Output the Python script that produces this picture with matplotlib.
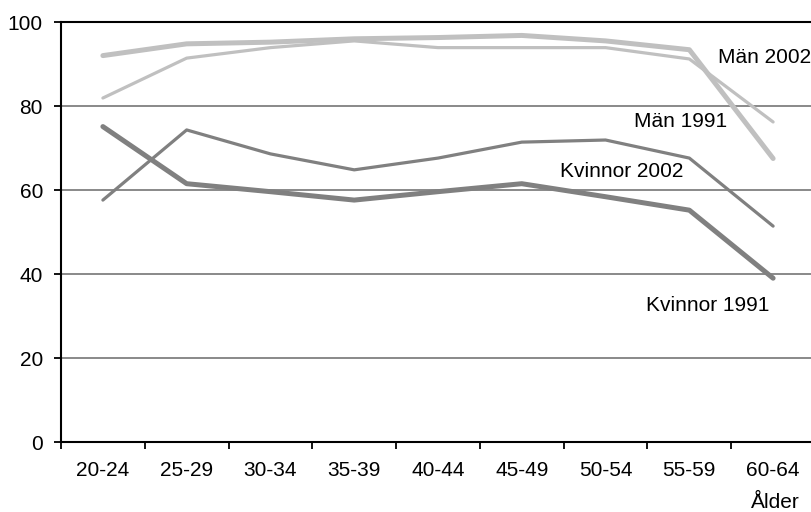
import numpy as np
import matplotlib.pyplot as plt
from matplotlib.ticker import FixedLocator, NullFormatter

plt.rcParams['font.family'] = ['Liberation Sans', 'DejaVu Sans']

# age groups on the x axis
age_groups = ['20-24', '25-29', '30-34', '35-39', '40-44', '45-49', '50-54', '55-59', '60-64']

# share of the population (%) per age group
man_2002 = [92.0, 94.8, 95.2, 96.0, 96.3, 96.8, 95.5, 93.4, 67.5]
man_1991 = [81.9, 91.4, 93.9, 95.5, 93.9, 93.9, 93.9, 91.2, 76.2]
kvinnor_2002 = [57.6, 74.3, 68.6, 64.8, 67.6, 71.4, 71.9, 67.6, 51.4]
kvinnor_1991 = [75.1, 61.5, 59.6, 57.6, 59.6, 61.5, 58.4, 55.2, 39.0]

light = '#c0c0c0'
dark = '#808080'

fig = plt.figure(figsize=(8.11, 5.12), dpi=100)
ax = fig.add_axes([61 / 811, 70 / 512, 754 / 811, 420 / 512])

x = np.arange(len(age_groups))

# gridlines at 20..80
for yv in [20, 40, 60, 80]:
    ax.axhline(yv, color='#808080', lw=1.3, zorder=1)

ax.plot(x, kvinnor_2002, color=dark, lw=2.3, solid_capstyle='round', zorder=3)
ax.plot(x, kvinnor_1991, color=dark, lw=3.6, solid_capstyle='round', zorder=4)
ax.plot(x, man_1991, color=light, lw=2.3, solid_capstyle='round', zorder=3)
ax.plot(x, man_2002, color=light, lw=3.6, solid_capstyle='round', zorder=4)

ax.set_xlim(-0.5, len(age_groups) - 0.5)
ax.set_ylim(0, 100)

# category labels at centres, tick marks at the boundaries
ax.set_xticks(x)
ax.set_xticklabels(age_groups)
ax.tick_params(axis='x', which='major', length=0, pad=14, labelsize=15)
ax.xaxis.set_minor_locator(FixedLocator(np.arange(-0.5, len(age_groups), 1.0)))
ax.xaxis.set_minor_formatter(NullFormatter())
ax.tick_params(axis='x', which='minor', length=5, width=1.3, direction='out', color='black')

ax.set_yticks([0, 20, 40, 60, 80, 100])
ax.tick_params(axis='y', length=5, width=1.3, direction='out', pad=8, labelsize=15)

for side in ['left', 'bottom', 'top']:
    ax.spines[side].set_color('black')
    ax.spines[side].set_linewidth(1.5)
ax.spines['right'].set_visible(False)

# series labels
ax.text(8.45, 91.6, 'Män 2002', fontsize=15, ha='right', va='center')
ax.text(7.45, 76.2, 'Män 1991', fontsize=15, ha='right', va='center')
ax.text(6.93, 64.3, 'Kvinnor 2002', fontsize=15, ha='right', va='center')
ax.text(7.96, 32.6, 'Kvinnor 1991', fontsize=15, ha='right', va='center')

fig.text(800 / 811, 1 - 502 / 512, 'Ålder', fontsize=15, ha='right', va='center')

fig.savefig('out.png', dpi=100)
